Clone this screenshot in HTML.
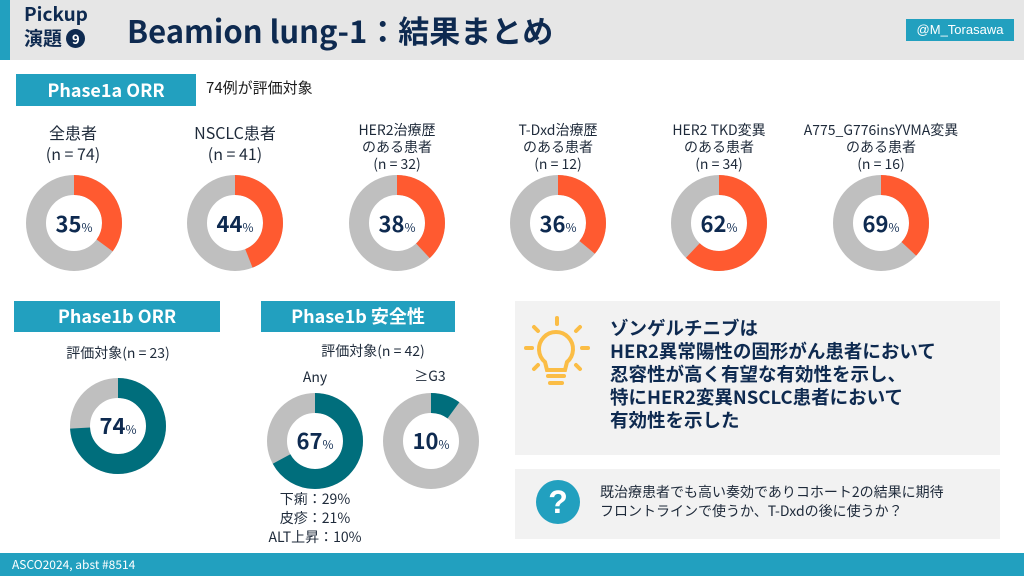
<!DOCTYPE html>
<html><head><meta charset="utf-8"><style>
body{margin:0;width:1024px;height:576px;position:relative;overflow:hidden;background:#fff;font-family:"Noto Sans CJK JP",sans-serif;color:#1a1a1a}
.a{position:absolute}
.hdr{left:0;top:0;width:1024px;height:60px;background:#e6e6e6}
.bar{background:#22a0bf;color:#fff;font-weight:bold;text-align:center;font-family:"Noto Sans CJK JP",sans-serif}
.lbl{text-align:center;font-size:14px;line-height:17px;color:#1e2a3a}
.pct{font-weight:bold;color:#0e2a50;font-size:22px;line-height:28px;text-align:center;width:80px}
.pct small{font-size:12px;font-weight:normal}
</style></head><body>
<div class="a hdr"></div>
<div class="a" style="left:0;top:0;width:10px;height:60px;background:#22a0bf"></div>
<div class="a" style="left:24px;top:2px;font-size:19px;line-height:24px;font-weight:bold;color:#0e2a50">Pickup<br>演題 <span style="display:inline-block;width:19px;height:19px;border-radius:50%;background:#0e2a50;color:#fff;font-size:13px;line-height:19px;text-align:center;vertical-align:1px">9</span></div>
<div class="a" style="left:127px;top:7px;font-size:31px;font-weight:bold;color:#0e2a50;line-height:46px">Beamion lung-1：結果まとめ</div>
<div class="a" style="left:906px;top:19px;width:108px;height:22px;background:#22a0bf;color:#fff;font-size:13px;line-height:22px;text-align:center;font-family:'Liberation Sans',sans-serif">@M_Torasawa</div>

<div class="a bar" style="left:16px;top:74px;width:180px;height:32px;font-size:18px;line-height:32px">Phase1a ORR</div>
<div class="a" style="left:206px;top:77px;font-size:15px;line-height:22px">74例が評価対象</div>

<div class="a bar" style="left:14px;top:301px;width:206px;height:31px;font-size:18px;line-height:31px">Phase1b ORR</div>
<div class="a bar" style="left:261px;top:301px;width:194px;height:31px;font-size:18px;line-height:31px">Phase1b 安全性</div>

<div class="a lbl" style="left:23px;top:122px;width:100px;font-size:16px;line-height:21px">全患者<br>(n = 74)</div>
<div class="a lbl" style="left:175px;top:122px;width:120px;font-size:16px;line-height:21px">NSCLC患者<br>(n = 41)</div>
<div class="a lbl" style="left:337px;top:122px;width:120px">HER2治療歴<br>のある患者<br>(n = 32)</div>
<div class="a lbl" style="left:498px;top:122px;width:120px">T-Dxd治療歴<br>のある患者<br>(n = 12)</div>
<div class="a lbl" style="left:659px;top:122px;width:120px">HER2 TKD変異<br>のある患者<br>(n = 34)</div>
<div class="a lbl" style="left:796px;top:122px;width:170px">A775_G776insYVMA変異<br>のある患者<br>(n = 16)</div>

<div class="a lbl" style="left:40px;top:345px;width:156px">評価対象(n = 23)</div>
<div class="a lbl" style="left:295px;top:343px;width:156px">評価対象(n = 42)</div>
<div class="a lbl" style="left:285px;top:369px;width:60px">Any</div>
<div class="a lbl" style="left:400px;top:368px;width:60px">≥G3</div>
<div class="a lbl" style="left:255px;top:490px;width:120px;line-height:19px">下痢：29%<br>皮疹：21%<br>ALT上昇：10%</div>

<svg class="a" style="left:0;top:0" width="1024" height="576">
<g fill="none" stroke-width="20">
<circle cx="74" cy="223" r="38" stroke="#bfbfbf"/><circle cx="74" cy="223" r="38" stroke="#ff5a30" stroke-dasharray="83.6 240" transform="rotate(-90 74 223)"/>
<circle cx="235" cy="223" r="38" stroke="#bfbfbf"/><circle cx="235" cy="223" r="38" stroke="#ff5a30" stroke-dasharray="105 240" transform="rotate(-90 235 223)"/>
<circle cx="397" cy="223" r="38" stroke="#bfbfbf"/><circle cx="397" cy="223" r="38" stroke="#ff5a30" stroke-dasharray="90.7 240" transform="rotate(-90 397 223)"/>
<circle cx="558" cy="223" r="38" stroke="#bfbfbf"/><circle cx="558" cy="223" r="38" stroke="#ff5a30" stroke-dasharray="86 240" transform="rotate(-90 558 223)"/>
<circle cx="719" cy="223" r="38" stroke="#bfbfbf"/><circle cx="719" cy="223" r="38" stroke="#ff5a30" stroke-dasharray="148 240" transform="rotate(-90 719 223)"/>
<circle cx="881" cy="223" r="38" stroke="#bfbfbf"/><circle cx="881" cy="223" r="38" stroke="#ff5a30" stroke-dasharray="88 240" transform="rotate(-90 881 223)"/>
<circle cx="118" cy="426" r="38" stroke="#bfbfbf"/><circle cx="118" cy="426" r="38" stroke="#006e7c" stroke-dasharray="176.7 240" transform="rotate(-90 118 426)"/>
<circle cx="315" cy="441" r="38" stroke="#bfbfbf"/><circle cx="315" cy="441" r="38" stroke="#006e7c" stroke-dasharray="160 240" transform="rotate(-90 315 441)"/>
<circle cx="431" cy="441" r="38" stroke="#bfbfbf"/><circle cx="431" cy="441" r="38" stroke="#006e7c" stroke-dasharray="24 240" transform="rotate(-90 431 441)"/>
</g>
<rect x="515" y="301" width="485" height="154" fill="#f2f2f2"/>
<rect x="515" y="469" width="485" height="70" fill="#f2f2f2"/>
<g stroke="#fbbd45" stroke-width="4" fill="none" stroke-linecap="round">
<path d="M545 362 a17 17 0 1 1 22 0 l-2 8 h-18 z"/>
<line x1="548" y1="376" x2="564" y2="376"/><line x1="550" y1="383" x2="562" y2="383"/>
<line x1="557" y1="318" x2="557" y2="324"/><line x1="534" y1="327" x2="538" y2="331"/><line x1="580" y1="327" x2="576" y2="331"/>
<line x1="526" y1="348" x2="532" y2="348"/><line x1="582" y1="348" x2="588" y2="348"/>
<line x1="534" y1="369" x2="538" y2="365"/><line x1="580" y1="369" x2="576" y2="365"/>
</g>
<circle cx="558" cy="502" r="22" fill="#22a0bf"/>
<text x="558" y="513" font-size="32" font-weight="bold" fill="#fff" text-anchor="middle" font-family="Liberation Sans,sans-serif">?</text>
</svg>
<div class="a pct" style="left:34px;top:209px">35<small>%</small></div>
<div class="a pct" style="left:195px;top:209px">44<small>%</small></div>
<div class="a pct" style="left:357px;top:209px">38<small>%</small></div>
<div class="a pct" style="left:518px;top:209px">36<small>%</small></div>
<div class="a pct" style="left:679px;top:209px">62<small>%</small></div>
<div class="a pct" style="left:841px;top:209px">69<small>%</small></div>
<div class="a pct" style="left:78px;top:411px">74<small>%</small></div>
<div class="a pct" style="left:275px;top:426px">67<small>%</small></div>
<div class="a pct" style="left:391px;top:426px">10<small>%</small></div>

<div class="a" style="left:610px;top:317px;font-size:18.5px;line-height:23px;font-weight:bold;color:#0e2a50">ゾンゲルチニブは<br>HER2異常陽性の固形がん患者において<br>忍容性が高く有望な有効性を示し、<br>特にHER2変異NSCLC患者において<br>有効性を示した</div>
<div class="a" style="left:600px;top:483px;font-size:14px;line-height:19px;color:#1e2a3a">既治療患者でも高い奏効でありコホート2の結果に期待<br>フロントラインで使うか、T-Dxdの後に使うか？</div>

<div class="a" style="left:0;top:553px;width:1024px;height:23px;background:#22a0bf;color:#fff;font-size:12px;line-height:23px;padding-left:12px;box-sizing:border-box">ASCO2024, abst #8514</div>
</body></html>
